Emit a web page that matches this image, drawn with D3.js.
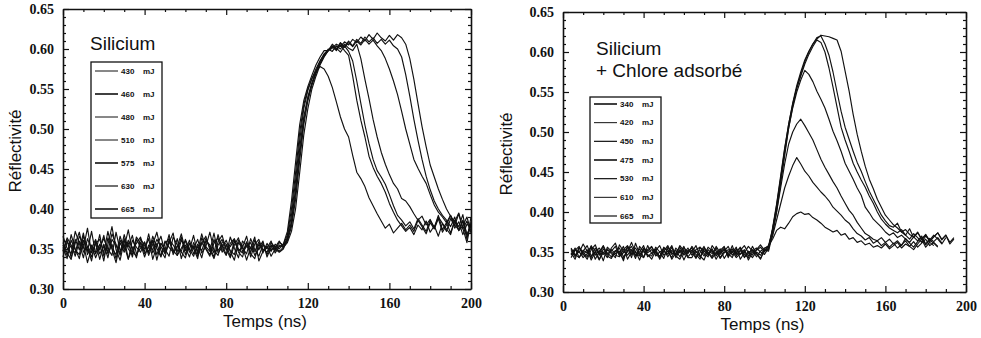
<!DOCTYPE html>
<html>
<head>
<meta charset="utf-8">
<script src="https://cdn.jsdelivr.net/npm/d3@7"></script>
<style>
  body { margin: 0; background: #fff; }
  text { fill: #111; }
</style>
</head>
<body>
<svg id="chart" width="981" height="338"></svg>
<script>
var timeStep = 2;
var siStart = 0;
var clStart = 4;

var xTicks = [0, 40, 80, 120, 160, 200];
var yTicks = [0.30, 0.35, 0.40, 0.45, 0.50, 0.55, 0.60, 0.65];

// Silicium: energies and reflectivity traces (one value every 2 ns from t = 0)
var siEnergies = ["430", "460", "480", "510", "575", "630", "665"];

var si430 = [
  .355,.342,.368,.350,.338,.361,.347,.372,.344,.356,
  .335,.364,.351,.343,.366,.349,.358,.340,.362,.353,
  .347,.369,.345,.357,.341,.360,.352,.346,.363,.338,
  .355,.349,.367,.344,.358,.350,.341,.362,.348,.356,
  .343,.365,.351,.339,.360,.354,.346,.361,.349,.357,
  .343,.355,.350,.358,.355,.368,.400,.445,.495,.530,
  .550,.563,.572,.578,.575,.566,.552,.534,.515,.500,
  .490,.467,.446,.438,.428,.414,.404,.394,.385,.376,
  .381,.370,.376,.382,.374,.380,.372,.386,.378,.369,
  .383,.375,.388,.371,.380,.392,.376,.384,.368,.381,
  .377];
var si460 = [
  .348,.362,.339,.357,.371,.346,.353,.335,.360,.349,
  .367,.344,.356,.338,.361,.352,.374,.347,.341,.358,
  .350,.363,.337,.354,.366,.345,.359,.348,.342,.361,
  .352,.340,.358,.347,.369,.351,.343,.357,.364,.346,
  .355,.341,.360,.348,.352,.366,.344,.338,.356,.350,
  .346,.358,.352,.360,.352,.365,.392,.435,.485,.525,
  .548,.563,.575,.585,.594,.598,.603,.599,.605,.598,
  .592,.566,.536,.511,.490,.466,.452,.441,.432,.421,
  .407,.396,.386,.379,.372,.377,.368,.380,.374,.385,
  .371,.379,.366,.382,.375,.368,.386,.373,.379,.390,
  .372];
var si480 = [
  .366,.351,.344,.372,.357,.339,.363,.350,.346,.368,
  .341,.355,.378,.349,.336,.360,.353,.367,.344,.351,
  .359,.342,.356,.371,.348,.339,.362,.355,.347,.365,
  .343,.357,.351,.338,.364,.353,.347,.370,.345,.352,
  .361,.347,.336,.358,.351,.344,.363,.349,.341,.355,
  .352,.347,.356,.350,.356,.372,.410,.458,.505,.535,
  .553,.567,.580,.590,.598,.598,.606,.601,.596,.604,
  .597,.585,.560,.532,.505,.482,.462,.448,.440,.431,
  .418,.404,.392,.386,.379,.384,.375,.388,.380,.372,
  .386,.377,.392,.374,.383,.370,.385,.378,.393,.366,
  .381];
var si510 = [
  .340,.359,.352,.345,.366,.356,.333,.351,.362,.344,
  .353,.347,.369,.356,.342,.363,.338,.350,.357,.365,
  .344,.352,.361,.336,.357,.349,.368,.343,.354,.347,
  .362,.350,.341,.356,.348,.363,.352,.340,.359,.367,
  .349,.353,.362,.346,.340,.358,.351,.365,.335,.347,
  .354,.341,.350,.346,.350,.362,.385,.425,.475,.515,
  .540,.558,.572,.585,.593,.600,.597,.604,.600,.606,
  .601,.598,.606,.588,.562,.538,.512,.490,.471,.456,
  .443,.432,.425,.413,.410,.403,.394,.386,.391,.380,
  .387,.376,.390,.382,.372,.388,.379,.394,.375,.385,
  .370];
var si575 = [
  .358,.345,.337,.362,.349,.370,.343,.355,.339,.352,
  .363,.350,.342,.371,.348,.355,.337,.361,.352,.346,
  .358,.345,.366,.351,.340,.357,.363,.346,.353,.369,
  .348,.361,.344,.353,.339,.360,.355,.345,.368,.351,
  .342,.357,.363,.350,.345,.359,.340,.356,.362,.348,
  .351,.360,.345,.353,.355,.360,.378,.412,.460,.505,
  .535,.555,.570,.582,.592,.598,.603,.598,.607,.602,
  .608,.603,.610,.605,.612,.606,.611,.604,.598,.588,
  .575,.560,.543,.522,.500,.481,.462,.451,.441,.432,
  .418,.405,.396,.390,.383,.392,.380,.374,.386,.368,
  .379];
var si630 = [
  .347,.364,.355,.341,.360,.351,.376,.345,.358,.337,
  .356,.339,.362,.354,.345,.368,.350,.343,.365,.357,
  .340,.355,.349,.362,.353,.344,.358,.370,.342,.351,
  .360,.346,.354,.341,.357,.366,.349,.338,.355,.362,
  .350,.339,.355,.364,.347,.353,.358,.342,.351,.360,
  .340,.352,.348,.355,.352,.362,.382,.420,.468,.510,
  .538,.556,.570,.582,.591,.598,.604,.600,.608,.603,
  .610,.604,.612,.607,.615,.609,.614,.607,.612,.606,
  .611,.604,.600,.590,.568,.541,.512,.486,.462,.441,
  .424,.410,.400,.392,.386,.378,.390,.373,.385,.362,
  .390];
var si665 = [
  .352,.338,.361,.349,.343,.366,.353,.340,.357,.362,
  .345,.372,.350,.333,.358,.346,.361,.352,.339,.363,
  .354,.347,.360,.343,.357,.350,.341,.365,.355,.346,
  .339,.357,.350,.362,.345,.353,.371,.348,.342,.359,
  .356,.348,.343,.361,.354,.336,.352,.347,.359,.345,
  .357,.349,.353,.347,.352,.358,.372,.400,.445,.492,
  .525,.550,.566,.580,.590,.598,.601,.606,.603,.609,
  .605,.612,.608,.615,.610,.618,.612,.620,.614,.610,
  .617,.611,.618,.614,.606,.588,.562,.532,.503,.478,
  .455,.440,.425,.412,.400,.391,.384,.395,.376,.358,
  .384];

// Silicium + chlore adsorbé (one value every 2 ns from t = 4)
var clEnergies = ["340", "420", "450", "475", "530", "610", "665"];

var cl340 = [
  .352,.344,.356,.348,.341,.353,.359,.346,.350,.343,
  .355,.361,.347,.342,.352,.357,.345,.350,.358,.344,
  .349,.354,.341,.351,.347,.356,.343,.352,.348,.355,
  .346,.351,.344,.353,.349,.342,.350,.347,.354,.345,
  .351,.343,.348,.353,.340,.349,.352,.356,.350,.358,
  .366,.377,.381,.379,.386,.394,.398,.400,.397,.398,
  .393,.390,.386,.381,.378,.375,.377,.371,.373,.366,
  .368,.362,.364,.359,.361,.356,.358,.355,.360,.354,
  .358,.362,.355,.360,.357,.363,.356,.361,.366,.358,
  .362,.357];
var cl420 = [
  .347,.355,.343,.351,.358,.345,.350,.340,.354,.349,
  .344,.352,.348,.357,.341,.350,.355,.346,.343,.353,
  .357,.345,.350,.342,.356,.349,.346,.353,.340,.351,
  .355,.343,.349,.357,.346,.352,.341,.350,.356,.348,
  .343,.354,.347,.351,.345,.357,.348,.342,.352,.356,
  .370,.390,.410,.430,.445,.458,.468,.460,.451,.445,
  .437,.431,.425,.420,.414,.406,.401,.396,.390,.386,
  .379,.373,.370,.365,.368,.361,.364,.358,.362,.356,
  .361,.355,.359,.364,.357,.353,.360,.366,.356,.362,
  .358];
var cl450 = [
  .355,.346,.351,.343,.348,.357,.352,.341,.349,.354,
  .348,.343,.359,.351,.346,.353,.342,.357,.350,.347,
  .341,.352,.358,.346,.351,.343,.355,.349,.357,.344,
  .350,.358,.345,.340,.353,.348,.355,.343,.351,.357,
  .346,.351,.355,.343,.349,.353,.344,.351,.355,.357,
  .375,.400,.430,.460,.485,.500,.510,.516,.508,.499,
  .490,.478,.466,.456,.447,.438,.430,.420,.411,.402,
  .396,.387,.380,.373,.370,.366,.364,.368,.362,.366,
  .360,.364,.358,.367,.361,.356,.363,.368,.359,.365,
  .361,.356];
var cl475 = [
  .343,.352,.357,.346,.353,.340,.350,.355,.347,.352,
  .350,.346,.344,.353,.358,.347,.351,.340,.354,.349,
  .353,.347,.343,.356,.350,.358,.345,.341,.352,.348,
  .357,.349,.352,.345,.356,.351,.347,.354,.342,.350,
  .354,.347,.352,.358,.349,.343,.350,.346,.354,.358,
  .378,.405,.440,.475,.505,.530,.550,.565,.577,.572,
  .563,.551,.541,.530,.516,.501,.489,.476,.461,.451,
  .441,.430,.421,.406,.399,.391,.386,.381,.375,.371,
  .374,.368,.371,.366,.362,.369,.364,.370,.360,.367,
  .363,.368,.361];
var cl530 = [
  .349,.341,.355,.350,.344,.358,.346,.352,.339,.356,
  .351,.357,.345,.349,.356,.343,.361,.347,.352,.346,
  .345,.356,.350,.353,.344,.352,.347,.358,.351,.343,
  .343,.353,.356,.348,.344,.358,.351,.342,.349,.353,
  .349,.356,.341,.349,.357,.351,.355,.350,.347,.355,
  .380,.410,.445,.480,.510,.535,.555,.570,.585,.597,
  .607,.615,.612,.600,.580,.556,.531,.506,.490,.476,
  .461,.450,.440,.431,.420,.411,.400,.391,.385,.380,
  .377,.374,.378,.371,.366,.373,.368,.362,.370,.365,
  .371,.366,.360,.368];
var cl610 = [
  .346,.353,.349,.360,.351,.343,.355,.348,.357,.345,
  .342,.351,.355,.344,.350,.362,.349,.345,.355,.351,
  .356,.349,.345,.351,.358,.347,.352,.344,.355,.350,
  .352,.347,.341,.355,.350,.344,.357,.349,.353,.346,
  .358,.345,.352,.344,.351,.346,.353,.359,.352,.353,
  .378,.408,.442,.478,.510,.536,.558,.575,.590,.601,
  .610,.618,.620,.610,.596,.575,.550,.526,.506,.491,
  .476,.462,.451,.438,.426,.416,.406,.396,.389,.383,
  .381,.386,.375,.371,.379,.368,.374,.366,.372,.363,
  .369,.374,.365,.371,.360,.366];
var cl665 = [
  .354,.347,.343,.352,.349,.356,.341,.350,.358,.347,
  .353,.348,.351,.339,.357,.352,.346,.354,.343,.358,
  .348,.351,.344,.355,.353,.341,.349,.356,.346,.352,
  .350,.342,.356,.351,.347,.354,.345,.352,.357,.343,
  .353,.349,.356,.347,.343,.352,.348,.341,.353,.351,
  .372,.400,.435,.470,.505,.532,.555,.572,.588,.600,
  .610,.616,.621,.620,.619,.617,.615,.601,.576,.551,
  .522,.497,.476,.457,.441,.429,.416,.406,.396,.390,
  .384,.380,.375,.378,.372,.369,.375,.366,.371,.364,
  .369,.374,.366,.371,.362,.368];

var svg = d3.select("#chart");

function drawPanel(p) {
  var x = d3.scaleLinear().domain([0, 200]).range([p.left, p.right]);
  var y = d3.scaleLinear().domain([0.30, 0.65]).range([p.bottom, p.top]);
  var g = svg.append("g");

  var xMinor = d3.range(0, 201, 10).filter(function (v) { return v % 40 != 0; });
  var yMinor = d3.range(30, 66, 1).filter(function (v) { return v % 5 != 0; }).map(function (v) { return v / 100; });

  // inward ticks on all four sides
  function ax(axisFn, scale, major, minor, pos, labels) {
    var a = g.append("g").attr("transform", pos)
      .call(axisFn(scale).tickValues(major).tickSizeInner(-6).tickSizeOuter(0).tickPadding(9)
        .tickFormat(labels ? d3.format(labels) : ""));
    g.append("g").attr("transform", pos)
      .call(axisFn(scale).tickValues(minor).tickSizeInner(-3).tickSizeOuter(0).tickFormat(""))
      .select(".domain").remove();
    return a;
  }
  ax(d3.axisBottom, x, xTicks, xMinor, "translate(0," + p.bottom + ")", "d");
  ax(d3.axisTop, x, xTicks, xMinor, "translate(0," + p.top + ")", null);
  ax(d3.axisLeft, y, yTicks, yMinor, "translate(" + p.left + ",0)", ".2f");
  ax(d3.axisRight, y, yTicks, yMinor, "translate(" + p.right + ",0)", null);

  g.selectAll(".domain").attr("stroke", "#111").attr("stroke-width", 1.6);
  g.selectAll(".tick line").attr("stroke", "#111").attr("stroke-width", 1.2);
  g.selectAll(".tick text")
    .style("font-family", "'Liberation Serif', serif")
    .style("font-weight", "bold")
    .style("font-size", "14px");

  var line = d3.line()
    .x(function (d, i) { return x(p.start + i * timeStep); })
    .y(function (d) { return y(d); });

  g.selectAll("path.trace")
    .data(p.series)
    .enter().append("path")
    .attr("class", "trace")
    .attr("d", line)
    .attr("fill", "none")
    .attr("stroke", "#111")
    .attr("stroke-width", 1.15)
    .attr("stroke-linejoin", "round");

  // axis titles
  g.append("text")
    .attr("x", (p.left + p.right) / 2 - 2)
    .attr("y", p.bottom + p.xTitleDy)
    .attr("text-anchor", "middle")
    .style("font-family", "'Liberation Sans', Arial, sans-serif")
    .style("font-size", "17px")
    .text("Temps (ns)");
  g.append("text")
    .attr("transform", "translate(" + (p.left - p.yTitleDx) + "," + ((p.top + p.bottom) / 2 + 2) + ") rotate(-90)")
    .attr("text-anchor", "middle")
    .style("font-family", "'Liberation Sans', Arial, sans-serif")
    .style("font-size", "17px")
    .text("Réflectivité");

  // panel caption
  g.selectAll("text.caption")
    .data(p.caption)
    .enter().append("text")
    .attr("class", "caption")
    .attr("x", p.capX)
    .attr("y", function (d, i) { return p.capY + i * 22; })
    .style("font-family", "'Liberation Sans', Arial, sans-serif")
    .style("font-size", "19px")
    .text(function (d) { return d; });

  // legend
  var lg = p.legend;
  g.append("rect")
    .attr("x", lg.x).attr("y", lg.y).attr("width", lg.w).attr("height", lg.h)
    .attr("fill", "#fff").attr("stroke", "#111").attr("stroke-width", 1.3);
  var row = d3.scalePoint().domain(p.energies).range([lg.y + lg.first, lg.y + lg.h - lg.last]);
  var items = g.selectAll("g.item")
    .data(p.energies)
    .enter().append("g")
    .attr("class", "item")
    .attr("transform", function (d) { return "translate(" + lg.x + "," + row(d) + ")"; });
  items.append("line")
    .attr("x1", 4).attr("x2", 27)
    .attr("stroke", "#111")
    .attr("stroke-width", function (d, i) { return lg.widths[i]; });
  items.append("text")
    .attr("x", 30).attr("dy", "0.35em")
    .style("font-family", "'Liberation Sans', Arial, sans-serif")
    .style("font-weight", "bold").style("font-size", "8px")
    .text(function (d) { return d; });
  items.append("text")
    .attr("x", 52).attr("dy", "0.35em")
    .style("font-family", "'Liberation Sans', Arial, sans-serif")
    .style("font-weight", "bold").style("font-size", "8px")
    .text("mJ");
}

drawPanel({
  left: 63, right: 471, top: 9, bottom: 289, start: siStart,
  xTitleDy: 38, yTitleDx: 42,
  series: [si430, si460, si480, si510, si575, si630, si665],
  energies: siEnergies,
  caption: ["Silicium"], capX: 90, capY: 50,
  legend: { x: 91, y: 62, w: 71, h: 156, first: 9, last: 9, widths: [1, 1.6, 1, 1, 1.6, 1.2, 1.6] }
});

drawPanel({
  left: 563, right: 966, top: 12, bottom: 292, start: clStart,
  xTitleDy: 38, yTitleDx: 51,
  series: [cl340, cl420, cl450, cl475, cl530, cl610, cl665],
  energies: clEnergies,
  caption: ["Silicium", "+ Chlore adsorbé"], capX: 596, capY: 55,
  legend: { x: 590, y: 97, w: 71, h: 126, first: 7, last: 7, widths: [1.6, 1, 1.2, 1.6, 1.2, 1, 1.2] }
});
</script>
</body>
</html>
